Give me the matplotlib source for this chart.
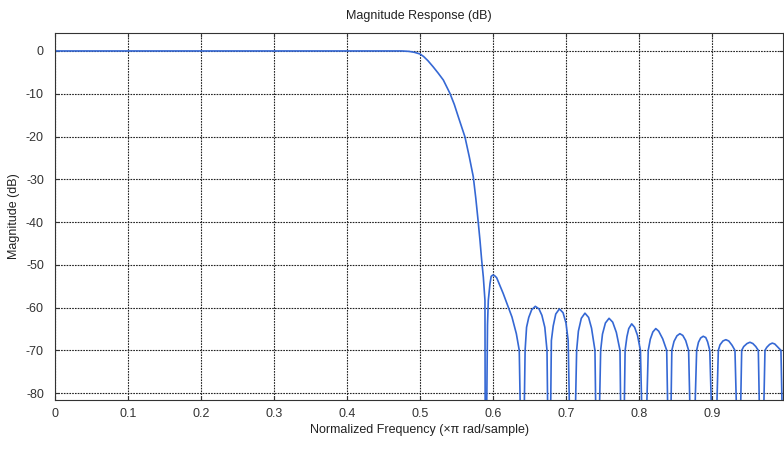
import matplotlib.pyplot as plt

plt.rcParams['font.family'] = ['Liberation Sans', 'DejaVu Sans']
plt.rcParams['axes.unicode_minus'] = False

# Normalized frequency (x pi rad/sample) and magnitude (dB)
# passband + transition band
freq_pass = [0.0, 0.45, 0.475, 0.485, 0.492, 0.5, 0.505, 0.511, 0.518, 0.525, 0.532,
             0.541, 0.547, 0.5525, 0.5616, 0.5676, 0.573, 0.5765, 0.5795, 0.5822,
             0.5845, 0.5868, 0.589, 0.5895]
mag_pass = [0, 0, 0, -0.1, -0.3, -0.7, -1.3, -2.3, -3.7, -5.2, -6.8,
            -9.9, -12.5, -15.4, -20.1, -24.8, -29.4, -34.5, -39.5, -44.3,
            -48.9, -52.9, -58.3, -100]

# stopband sidelobes
freq_stop = [0.5905, 0.5925, 0.5936, 0.5959, 0.5975, 0.5996, 0.602, 0.605, 0.614, 0.626, 0.632, 0.636, 0.639,
             0.6415, 0.644, 0.646, 0.649, 0.653, 0.658, 0.663, 0.667, 0.671, 0.674, 0.676,
             0.678, 0.680, 0.6825, 0.686, 0.691, 0.696, 0.700, 0.703, 0.7065,
             0.711, 0.7146, 0.717, 0.721, 0.726, 0.731, 0.735, 0.7397, 0.742,
             0.744, 0.7475, 0.750, 0.754, 0.759, 0.764, 0.769, 0.774, 0.776,
             0.7785, 0.781, 0.7835, 0.786, 0.790, 0.794, 0.798, 0.802, 0.806,
             0.808, 0.8127, 0.8155, 0.819, 0.823, 0.827, 0.8325, 0.838, 0.841,
             0.8425, 0.845, 0.848, 0.852, 0.856, 0.860, 0.864, 0.868, 0.872,
             0.874, 0.879, 0.8815, 0.8845, 0.888, 0.8915, 0.894, 0.897, 0.902,
             0.904, 0.9087, 0.911, 0.915, 0.919, 0.923, 0.9275, 0.9315, 0.936,
             0.9375, 0.9407, 0.9435, 0.948, 0.952, 0.956, 0.960, 0.9635, 0.9667,
             0.969, 0.9726, 0.975, 0.979, 0.9826, 0.986, 0.990, 0.9945, 0.998]
mag_stop = [-100, -64, -58.3, -54.4, -52.7, -52.4, -52.5, -53.0, -56.7, -62.2, -66.1, -70, -100,
            -100, -70, -64.6, -62.3, -60.5, -59.7, -60.3, -61.8, -64.6, -70, -100,
            -100, -67.7, -64.3, -61.5, -60.3, -61.2, -63.6, -67.7, -100,
            -100, -70, -65.5, -62.5, -61.3, -62.3, -64.8, -70, -100,
            -100, -70, -66.2, -63.6, -62.5, -63.4, -65.8, -70, -100,
            -100, -70, -66.8, -64.9, -63.8, -64.6, -66.5, -70, -100,
            -100, -70, -67.4, -65.7, -64.9, -65.5, -67.3, -70, -100,
            -100, -70, -67.9, -66.6, -66.1, -66.5, -67.7, -70, -100,
            -100, -70, -68.1, -67.1, -66.7, -67.0, -68.0, -70, -100,
            -100, -70, -68.7, -67.8, -67.5, -67.8, -68.8, -70, -100,
            -100, -70, -69.1, -68.4, -68.1, -68.4, -69.1, -70, -100,
            -100, -70, -69.3, -68.6, -68.3, -68.5, -69.2, -70, -100]

freq = freq_pass + freq_stop
mag = mag_pass + mag_stop

xticks = [0, 0.1, 0.2, 0.3, 0.4, 0.5, 0.6, 0.7, 0.8, 0.9]
xticklabels = ['0', '0.1', '0.2', '0.3', '0.4', '0.5', '0.6', '0.7', '0.8', '0.9']
yticks = [0, -10, -20, -30, -40, -50, -60, -70, -80]

fig = plt.figure(figsize=(7.84, 4.49), dpi=100)
ax = fig.add_axes([55 / 784, 49 / 449, 728 / 784, 367 / 449])

ax.plot(freq, mag, color='#3568d4', linewidth=1.2)

ax.set_xlim(0, 0.9973)
ax.set_ylim(-81.6, 4.2)
ax.set_xticks(xticks)
ax.set_xticklabels(xticklabels)
ax.set_yticks(yticks)
ax.tick_params(direction='in', length=3, labelsize=9, colors='#333333',
               top=True, right=True, pad=6)
ax.tick_params(axis='y', pad=8)

ax.grid(True, color='#222222', linestyle=(0, (1.5, 1)), linewidth=0.8)
for s in ax.spines.values():
    s.set_color('#333333')
    s.set_linewidth(0.8)

ax.set_title('Magnitude Response (dB)', fontsize=9, color='#222222', pad=10)
ax.set_xlabel('Normalized Frequency (\u00d7\u03c0 rad/sample)', fontsize=9, color='#222222', labelpad=3)
ax.set_ylabel('Magnitude (dB)', fontsize=9, color='#222222', labelpad=4)

fig.savefig('out.png', dpi=100)
